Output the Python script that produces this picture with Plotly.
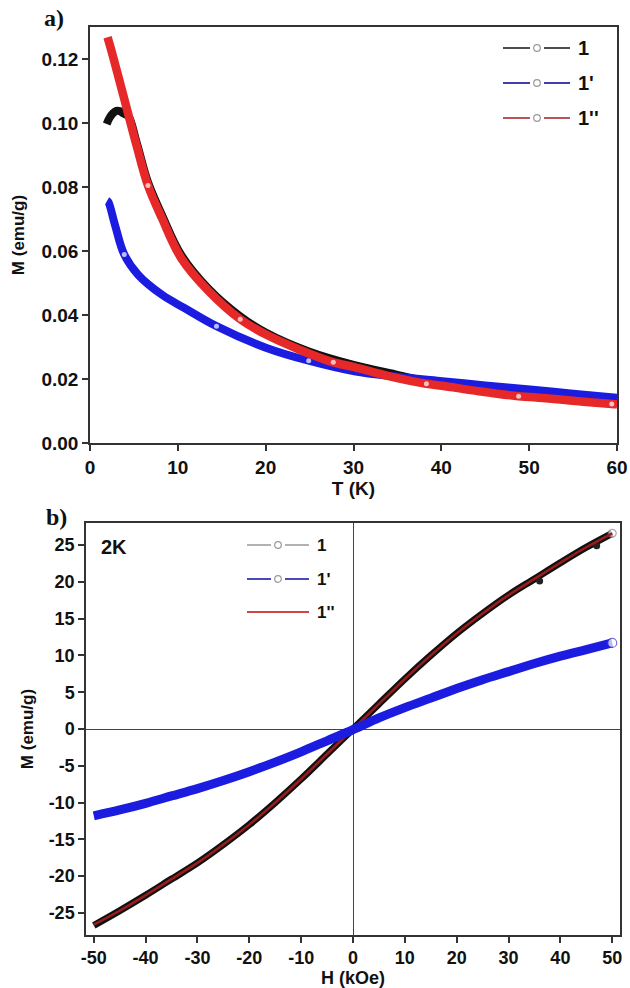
import plotly.graph_objects as go

# ---------------- Panel a: M vs T ----------------
T_1 = [1.9, 2.2, 2.6, 3.0, 3.4, 3.8, 4.4, 5.3, 6.6, 8.2, 10.4, 13.5, 17.0, 20.0, 25.0,
       30.0, 35.0, 40.0, 45.0, 50.0, 55.0, 60.0]
M_1 = [0.0997, 0.1015, 0.1030, 0.1038, 0.1037, 0.1030, 0.1020, 0.0940, 0.0815, 0.0712,
       0.0587, 0.0482, 0.0398, 0.0345, 0.0285, 0.0244, 0.0213, 0.0184, 0.0165, 0.0149,
       0.0136, 0.0125]

T_1p = [1.95, 2.1, 2.85, 3.9, 5.5, 8.2, 10.8, 14.4, 20.1, 24.9, 30.1, 35.0, 40.1, 45.0,
        50.1, 55.0, 60.0]
M_1p = [0.0757, 0.0753, 0.0681, 0.0589, 0.0525, 0.0463, 0.0421, 0.0365, 0.0297, 0.0257,
        0.0224, 0.0207, 0.0193, 0.0180, 0.0167, 0.0154, 0.0141]

T_1pp = [2.0, 2.5, 3.2, 4.4, 5.3, 6.6, 8.2, 10.4, 13.5, 17.1, 20.1, 24.0, 27.7, 30.1,
         34.0, 38.3, 40.1, 44.0, 48.8, 50.1, 55.0, 59.4, 60.0]
M_1pp = [0.1268, 0.1220, 0.1148, 0.1023, 0.0930, 0.0805, 0.0702, 0.0577, 0.0475, 0.0387,
         0.0338, 0.0290, 0.0252, 0.0237, 0.0209, 0.0185, 0.0179, 0.0163, 0.0146, 0.0144,
         0.0132, 0.0122, 0.0121]

# temperatures where the open (white) symbols show through the dense bands
T_1p_open = [3.9, 14.4, 24.9]
T_1pp_open = [6.6, 17.1, 27.7, 38.3, 48.8, 59.4]

# ---------------- Panel b: M vs H at 2K ----------------
H_1 = [-50, -45, -40, -35, -30, -25, -20, -15, -10, -5, 0, 5, 10, 15, 20, 25, 30, 35,
       40, 45, 50]
Mh_1 = [-26.7, -24.7, -22.6, -20.4, -18.2, -15.7, -13.0, -10.0, -6.8, -3.4, 0.0, 3.4,
        6.8, 10.0, 13.0, 15.7, 18.2, 20.4, 22.6, 24.7, 26.6]
# stray points of sample 1 slightly off the curve
H_1_stray = [36, 47]
Mh_1_stray = [20.1, 24.9]

H_1p = [-50, -45, -40, -35, -30, -25, -20, -15, -10, -5, 0, 5, 10, 15, 20, 25, 30, 35,
        40, 45, 50]
Mh_1p = [-11.8, -11.0, -10.1, -9.1, -8.1, -7.0, -5.8, -4.5, -3.1, -1.6, -0.1, 1.5, 2.9,
         4.2, 5.5, 6.7, 7.8, 8.9, 9.9, 10.8, 11.7]

H_1pp = [-50, -45, -40, -35, -30, -25, -20, -15, -10, -5, 0, 5, 10, 15, 20, 25, 30, 35,
         40, 45, 50]
Mh_1pp = [-26.6, -24.7, -22.6, -20.4, -18.2, -15.7, -13.0, -10.0, -6.8, -3.4, 0.0, 3.4,
          6.8, 10.0, 13.0, 15.7, 18.2, 20.4, 22.6, 24.7, 26.6]

names = ["1", "1'", "1''"]
T_ticks = [0, 10, 20, 30, 40, 50, 60]
Ma_ticks = [0, 0.02, 0.04, 0.06, 0.08, 0.10, 0.12]
H_ticks = list(range(-50, 51, 10))
Mb_ticks = list(range(-25, 26, 5))

FONT = "Liberation Sans, Arial, sans-serif"
SERIF = "Liberation Serif, Times New Roman, serif"
AX = "#333333"
W, H = 630, 988


def px(x):
    return x / W


def py(y):
    return 1 - y / H


def open_sizes(xs, keep, size):
    return [size if v in keep else 0 for v in xs]


fig = go.Figure()

# ---- panel a data ----
fig.add_trace(go.Scatter(x=T_1, y=M_1, mode="lines",
                         line=dict(color="#111111", width=8, shape="spline"),
                         showlegend=False, xaxis="x", yaxis="y"))
fig.add_trace(go.Scatter(x=T_1p, y=M_1p, mode="lines+markers",
                         line=dict(color="#1c1ce0", width=8, shape="spline"),
                         marker=dict(size=open_sizes(T_1p, T_1p_open, 5), color="white",
                                     line=dict(width=0)),
                         showlegend=False, xaxis="x", yaxis="y"))
fig.add_trace(go.Scatter(x=T_1pp, y=M_1pp, mode="lines+markers",
                         line=dict(color="#e62828", width=8.5, shape="spline"),
                         marker=dict(size=open_sizes(T_1pp, T_1pp_open, 5), color="white",
                                     line=dict(width=0)),
                         showlegend=False, xaxis="x", yaxis="y"))

# ---- panel b data ----
fig.add_trace(go.Scatter(x=H_1, y=Mh_1, mode="lines+markers",
                         line=dict(color="#111111", width=7, shape="spline"),
                         marker=dict(size=[0] * (len(H_1) - 1) + [8], color="white",
                                     line=dict(color="#888888", width=1.2)),
                         showlegend=False, xaxis="x2", yaxis="y2"))
fig.add_trace(go.Scatter(x=H_1_stray, y=Mh_1_stray, mode="markers",
                         marker=dict(size=7, color="#222222"),
                         showlegend=False, xaxis="x2", yaxis="y2"))
fig.add_trace(go.Scatter(x=H_1pp, y=Mh_1pp, mode="lines",
                         line=dict(color="#9a1c1c", width=2.5, shape="spline"),
                         showlegend=False, xaxis="x2", yaxis="y2"))
fig.add_trace(go.Scatter(x=H_1p, y=Mh_1p, mode="lines+markers",
                         line=dict(color="#1c1ce0", width=9, shape="spline"),
                         marker=dict(size=[0] * (len(H_1p) - 1) + [9], color="white",
                                     line=dict(color="#3a3ad0", width=1.2)),
                         showlegend=False, xaxis="x2", yaxis="y2"))

# ---- legends (line - open circle - line, then label) ----
shapes = []
annots = []


def legend_row(xl, xr, xc, y, color, label, size, with_marker=True, mcolor="#999999"):
    if with_marker:
        shapes.append(dict(type="line", xref="paper", yref="paper", x0=px(xl), x1=px(xc - 7),
                           y0=py(y), y1=py(y), line=dict(color=color, width=1.8)))
        shapes.append(dict(type="line", xref="paper", yref="paper", x0=px(xc + 7), x1=px(xr),
                           y0=py(y), y1=py(y), line=dict(color=color, width=1.8)))
        shapes.append(dict(type="circle", xref="paper", yref="paper",
                           x0=px(xc - 3.3), x1=px(xc + 3.3), y0=py(y + 3.3), y1=py(y - 3.3),
                           line=dict(color=mcolor, width=1.2), fillcolor="white"))
    else:
        shapes.append(dict(type="line", xref="paper", yref="paper", x0=px(xl), x1=px(xr),
                           y0=py(y), y1=py(y), line=dict(color=color, width=2)))
    annots.append(dict(text=label, x=px(xr + 6), y=py(y), xref="paper", yref="paper",
                       xanchor="left", yanchor="middle", showarrow=False,
                       font=dict(family=FONT, size=size, weight="bold", color="#111111")))


leg_a_cols = ["#3a3a3a", "#2b2b9e", "#b04545"]
for i, (n, c) in enumerate(zip(names, leg_a_cols)):
    legend_row(503, 570, 537, 48 + 35 * i, c, n, 20)

legend_row(247, 309, 278, 545, "#aaaaaa", names[0], 17)
legend_row(247, 309, 278, 579, "#3535b0", names[1], 17)
legend_row(247, 309, 278, 612, "#d04545", names[2], 17, with_marker=False)

axis_common = dict(showline=True, linecolor=AX, linewidth=1.5, mirror=True, ticks="outside",
                   ticklen=6, tickwidth=1.5, tickcolor=AX, showgrid=False,
                   automargin=False)

fig.update_layout(
    width=W, height=H, margin=dict(l=0, r=0, t=0, b=0),
    paper_bgcolor="white", plot_bgcolor="white",
    font=dict(family=FONT, color="#111111"),
    showlegend=False,
    xaxis=dict(domain=[px(90), px(617)], range=[0, 60], tickvals=T_ticks,
               tickfont=dict(size=19, weight="bold"), zeroline=False,
               title=dict(text="T (K)", font=dict(size=19, weight="bold"), standoff=1),
               anchor="y", **axis_common),
    yaxis=dict(domain=[py(443), py(27)], range=[0, 0.13],
               tickvals=Ma_ticks, tickformat=".2f", zeroline=False,
               tickfont=dict(size=19, weight="bold"),
               title=dict(text="M (emu/g)", font=dict(size=17, weight="bold"), standoff=13),
               anchor="x", **axis_common),
    xaxis2=dict(domain=[px(86), px(620)], range=[-51.5, 51.5],
                tickvals=H_ticks, ticktext=[str(v) for v in H_ticks],
                tickfont=dict(size=18, weight="bold"),
                title=dict(text="H (kOe)", font=dict(size=18, weight="bold"), standoff=1),
                zeroline=True, zerolinecolor="#444444", zerolinewidth=1.3,
                anchor="y2", **axis_common),
    yaxis2=dict(domain=[py(935), py(523)], range=[-28, 28],
                tickvals=Mb_ticks, ticktext=[str(v) for v in Mb_ticks],
                tickfont=dict(size=18, weight="bold"),
                title=dict(text="M (emu/g)", font=dict(size=17, weight="bold"), standoff=11),
                zeroline=True, zerolinecolor="#444444", zerolinewidth=1.3,
                anchor="x2", **axis_common),
    shapes=shapes,
)

for a in annots:
    fig.add_annotation(**a)

fig.add_annotation(text="a)", x=px(42), y=py(3), xref="paper", yref="paper",
                   xanchor="left", yanchor="top", showarrow=False,
                   font=dict(family=SERIF, size=24, weight="bold", color="#111111"))
fig.add_annotation(text="b)", x=px(44), y=py(502), xref="paper", yref="paper",
                   xanchor="left", yanchor="top", showarrow=False,
                   font=dict(family=SERIF, size=24, weight="bold", color="#111111"))
fig.add_annotation(text="2K", x=px(99), y=py(534), xref="paper", yref="paper",
                   xanchor="left", yanchor="top", showarrow=False,
                   font=dict(family=FONT, size=20, weight="bold", color="#111111"))

fig.write_html("out.html")
